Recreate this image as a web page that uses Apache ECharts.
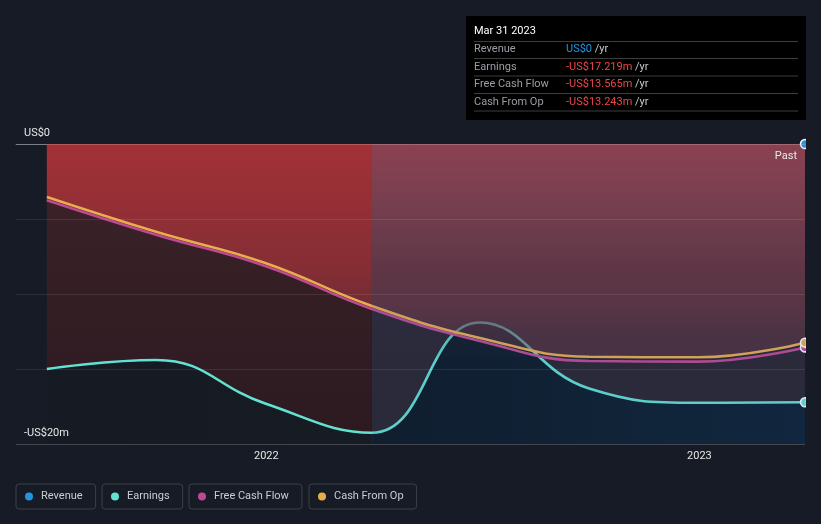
<!DOCTYPE html>
<html><head><meta charset="utf-8">
<script src="https://cdn.jsdelivr.net/npm/echarts@6/dist/echarts.min.js"></script>
<style>html,body{margin:0;padding:0;background:#161b26;}#c{width:821px;height:524px;}</style>
</head><body><div id="c"></div>
<script>
// ---- data (US$ millions) ----
const dates = ['2021-06-30','2021-09-30','2021-12-31','2022-03-31','2022-06-30','2022-09-30','2022-12-31','2023-03-31'];
const revenue = [0, 0, 0, 0, 0, 0, 0, 0];
const earnings = [-15.0, -14.4, -17.3, -19.25, -11.9, -16.3, -17.25, -17.219];
const freeCashFlow = [-3.75, -6.05, -8.13, -11.0, -13.13, -14.47, -14.51, -13.565];
const cashFromOp = [-3.53, -5.85, -7.93, -10.8, -12.93, -14.18, -14.22, -13.243];
const seriesNames = ['Revenue', 'Earnings', 'Free Cash Flow', 'Cash From Op'];
const yTickValues = [0, -20];
const yTickLabels = {'0': 'US$0', '-20': '-US$20m'};
const xTickYears = [2022, 2023];
const pastLabel = 'Past';

const C = { rev: '#2394df', earn: '#62e3d2', fcf: '#c04892', cfo: '#e9ad4c' };
const last = dates.length - 1;
const ts = s => { const p = s.split('-').map(Number); return Date.UTC(p[0], p[1] - 1, p[2]); };
const pair = arr => arr.map((v, i) => [ts(dates[i]), v]);
const yearTs = xTickYears.map(y => Date.UTC(y, 0, 1));
const months = ['Jan','Feb','Mar','Apr','May','Jun','Jul','Aug','Sep','Oct','Nov','Dec'];
const lastDate = dates[last].split('-').map(Number);
const tipTitle = months[lastDate[1]-1] + ' ' + lastDate[2] + ' ' + lastDate[0];
const fmt = v => (v < 0 ? '-' : '') + 'US$' + (v === 0 ? '0' : Math.abs(v).toFixed(3) + 'm');
const tipValues = [revenue[last], earnings[last], freeCashFlow[last], cashFromOp[last]];
const pastStart = ts(dates[3]);

function endSymbol(color) {
  return {
    symbol: (v, p) => p.dataIndex === last ? 'circle' : 'none',
    symbolSize: 9, showSymbol: true, showAllSymbol: true,
    itemStyle: { color: color, borderColor: '#ffffff', borderWidth: 1.5 }
  };
}
const lin = (x2, y2, stops) => ({ type: 'linear', x: 0, y: 0, x2: x2, y2: y2,
  colorStops: stops.map(s => ({ offset: s[0], color: s[1] })) });

const chart = echarts.init(document.getElementById('c'), null, { renderer: 'canvas' });

const tipGraphics = [
  { type: 'rect', shape: { x: 466, y: 16, width: 340, height: 104 }, style: { fill: '#000000' }, z: 100 },
  { type: 'text', x: 474, y: 31, style: { text: tipTitle, fill: '#ffffff', font: '11px Roboto', verticalAlign: 'middle' }, z: 101 }
];
const sepY = [41.5, 58.5, 76, 93.5, 111];
sepY.forEach(y => tipGraphics.push({ type: 'line', shape: { x1: 474, y1: y, x2: 798, y2: y }, style: { stroke: '#3d3d3d', lineWidth: 1 }, z: 101 }));
const rowY = [49.5, 67, 84.5, 102];
seriesNames.forEach((n, i) => {
  tipGraphics.push({ type: 'text', x: 474, y: rowY[i], style: { text: n, fill: '#9a9ea4', font: '11px Roboto', verticalAlign: 'middle' }, z: 101 });
  tipGraphics.push({ type: 'text', x: 566, y: rowY[i], style: {
    text: '{v|' + fmt(tipValues[i]) + '} {u|/yr}', verticalAlign: 'middle', font: '11px Roboto',
    rich: { v: { fill: i === 0 ? C.rev : '#ec4646', font: '11px Roboto' }, u: { fill: '#c8c8c8', font: '11px Roboto' } } }, z: 101 });
});

const legendLefts = [16, 102, 189, 309];

chart.setOption({
  animation: false,
  backgroundColor: '#161b26',
  textStyle: { fontFamily: 'Roboto' },
  grid: { left: 16, right: 16, top: 144, bottom: 80, containLabel: false },
  legend: seriesNames.map((n, i) => ({
    data: [n], left: legendLefts[i], top: 484, icon: 'circle', itemWidth: 14, itemHeight: 8,
    padding: [7, 13, 7, 9], borderColor: '#3a404b', borderWidth: 1, borderRadius: 3,
    itemStyle: { borderWidth: 0 },
    selectedMode: false, textStyle: { color: '#c9cdd3', fontSize: 11, fontFamily: 'Roboto' }
  })),
  xAxis: {
    type: 'value', min: Date.UTC(2021, 5, 4), max: ts(dates[last]), scale: true,
    axisLine: { show: true, lineStyle: { color: '#5a5f69', width: 1 } },
    axisTick: { show: true, customValues: yearTs, length: 4, lineStyle: { color: '#5a5f69' } },
    axisLabel: { customValues: yearTs, formatter: v => String(new Date(v).getUTCFullYear()), color: '#e6e6e6', fontSize: 11, margin: 7 },
    splitLine: { show: false }
  },
  yAxis: {
    type: 'value', min: -20, max: 0, interval: 5, z: 7,
    axisLine: { show: false }, axisTick: { show: false },
    splitLine: { show: true, lineStyle: { width: 1, color: ['rgba(255,255,255,0.2)', 'rgba(255,255,255,0.09)', 'rgba(255,255,255,0.09)', 'rgba(255,255,255,0.09)', 'rgba(255,255,255,0.2)'] } },
    axisLabel: { customValues: yTickValues, inside: true, margin: 8, formatter: v => yTickLabels[String(v)] || '',
      color: '#e6e6e6', fontSize: 11, verticalAlign: 'bottom', padding: [0, 0, 5, 0] }
  },
  graphic: tipGraphics.concat([
    { type: 'rect', shape: { x: 806, y: 128, width: 15, height: 322 }, style: { fill: '#161b26' }, z: 100 },
    { type: 'text', x: 797, y: 156, style: { text: pastLabel, fill: '#e8e8e8', font: '11px Roboto', align: 'right', verticalAlign: 'middle' }, z: 100 }
  ]),
  series: [
    // revenue (hosts plot background bands)
    Object.assign({
      name: seriesNames[0], type: 'line', data: pair(revenue), color: C.rev,
      lineStyle: { opacity: 0 }, z: 5,
      markArea: { silent: true, z: 1, data: [
        [{ xAxis: ts(dates[0]), itemStyle: { color: lin(0, 1, [[0, '#3d2329'], [1, '#2b1a20']]) } }, { xAxis: pastStart }],
        [{ xAxis: pastStart, itemStyle: { color: '#27212a' } }, { xAxis: ts(dates[last]) }]
      ] }
    }, endSymbol(C.rev)),
    // earnings line + fill below
    Object.assign({
      name: seriesNames[1], type: 'line', data: pair(earnings), color: C.earn, smooth: 0.45, z: 2,
      lineStyle: { width: 2.6, color: C.earn },
      areaStyle: { origin: 'start', opacity: 1, color: lin(1, 0, [[0, '#151a23'], [0.4295, '#161b24'], [0.4305, '#08131b'], [1, '#091e2e']]) },
      markArea: { silent: true, z: 6, itemStyle: { color: 'rgba(70,95,160,0.15)' }, data: [
        [{ xAxis: pastStart }, { xAxis: ts(dates[last]) }]
      ] }
    }, endSymbol(C.earn)),
    // red fill above cash from operations
    {
      name: 'cfoFill', type: 'line', data: pair(cashFromOp), smooth: 0.45, z: 3, symbol: 'none',
      lineStyle: { opacity: 0 }, silent: true,
      areaStyle: { origin: 'auto', opacity: 1, color: lin(0, 1, [[0, 'rgba(168,50,55,0.95)'], [0.6, 'rgba(150,48,56,0.82)'], [0.75, 'rgba(144,52,60,0.66)'], [0.88, 'rgba(140,58,68,0.42)'], [1, 'rgba(138,62,72,0.35)']]) },
      markArea: { silent: true, z: 4, data: [
        [{ xAxis: pastStart, yAxis: 0, itemStyle: { color: lin(0, 1, [[0, 'rgba(98,122,134,0.15)'], [0.6, 'rgba(44,50,53,0.36)'], [0.8, 'rgba(44,48,53,0.2)'], [1, 'rgba(46,40,48,0.06)']]) } },
         { xAxis: ts(dates[last]), yAxis: Math.min.apply(null, cashFromOp) }]
      ] }
    },
    Object.assign({
      name: seriesNames[2], type: 'line', data: pair(freeCashFlow), color: C.fcf, smooth: 0.45, z: 5,
      lineStyle: { width: 2.6, color: C.fcf }
    }, endSymbol(C.fcf)),
    Object.assign({
      name: seriesNames[3], type: 'line', data: pair(cashFromOp), color: C.cfo, smooth: 0.45, z: 5,
      lineStyle: { width: 2.6, color: C.cfo }
    }, endSymbol(C.cfo))
  ]
});
</script></body></html>
